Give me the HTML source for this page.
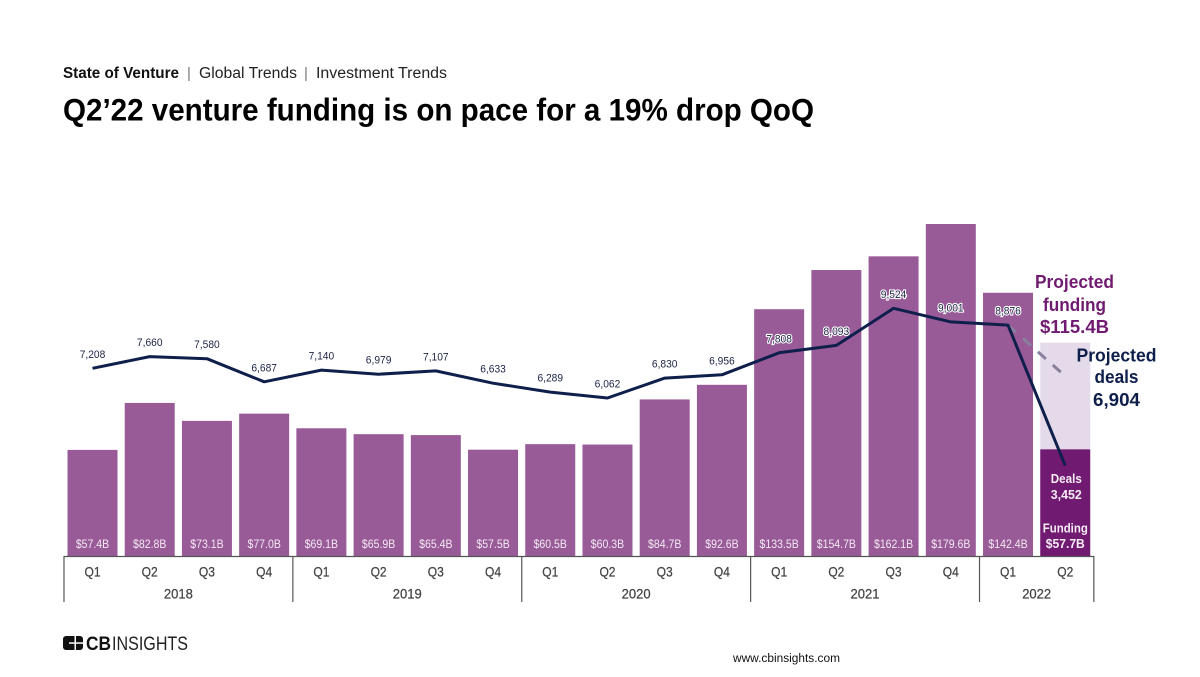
<!DOCTYPE html>
<html lang="en">
<head>
<meta charset="utf-8">
<title>Q2'22 venture funding is on pace for a 19% drop QoQ</title>
<style>
html,body{margin:0;padding:0;background:#fff;width:1200px;height:677px;overflow:hidden}
svg{display:block;font-family:"Liberation Sans",sans-serif}
</style>
</head>
<body>
<svg id="chart" xmlns="http://www.w3.org/2000/svg" width="1200" height="677" viewBox="0 0 1200 677">
  <rect x="0" y="0" width="1200" height="677" fill="#fff"/>
  <g>
    <text x="63" y="78" font-size="15.5" font-weight="700" fill="#111" textLength="116" lengthAdjust="spacingAndGlyphs">State of Venture</text>
    <text x="187" y="78" font-size="15" fill="#777">|</text>
    <text x="199" y="78" font-size="15.5" fill="#222" textLength="98" lengthAdjust="spacingAndGlyphs">Global Trends</text>
    <text x="304" y="78" font-size="15" fill="#777">|</text>
    <text x="316" y="78" font-size="15.5" fill="#222" textLength="131" lengthAdjust="spacingAndGlyphs">Investment Trends</text>
    <text x="63" y="120.5" font-size="31.5" font-weight="700" fill="#000" textLength="751" lengthAdjust="spacingAndGlyphs">Q2’22 venture funding is on pace for a 19% drop QoQ</text>
  </g>
  <g id="bars"></g>
  <g id="axis"></g>
  <g id="lines"></g>
  <g id="annotations"></g>
  <g>
    <rect x="63" y="636" width="20" height="14" rx="3" fill="#111"/>
    <rect x="74.5" y="636" width="1.5" height="14" fill="#fff"/>
    <rect x="69" y="642.3" width="14" height="1.5" fill="#fff"/>
    <text x="86" y="650" font-size="19.5" font-weight="700" fill="#111" textLength="25" lengthAdjust="spacingAndGlyphs">CB</text>
    <text x="112" y="650" font-size="19.5" fill="#222" textLength="76" lengthAdjust="spacingAndGlyphs">INSIGHTS</text>
  </g>
  <text x="733" y="662" font-size="11.5" fill="#111" textLength="107" lengthAdjust="spacingAndGlyphs">www.cbinsights.com</text>
</svg>
<script>
const quarters = ["Q1","Q2","Q3","Q4","Q1","Q2","Q3","Q4","Q1","Q2","Q3","Q4","Q1","Q2","Q3","Q4","Q1","Q2"];
const years = ["2018","2019","2020","2021","2022"];
const quartersPerYear = [4,4,4,4,2];
const funding = [57.4,82.8,73.1,77.0,69.1,65.9,65.4,57.5,60.5,60.3,84.7,92.6,133.5,154.7,162.1,179.6,142.4,57.7];
const deals = [7208,7660,7580,6687,7140,6979,7107,6633,6289,6062,6830,6956,7808,8093,9524,9001,8876,3452];
const projectedFunding = 115.4;
const projectedDeals = 6904;

const NS = "http://www.w3.org/2000/svg";
const xBand = 57.22, xStart = 92.5, barW = 50;
const baseY = 556;
function xPos(i){ return xStart + i * xBand; }
function yFunding(v){ return baseY - v * 1.8486; }
function yDeals(v){ return 368.3 - (v - 7208) * 0.0259; }
function make(parent, tag, attrs, txt){
  const el = document.createElementNS(NS, tag);
  for (const k in attrs) el.setAttribute(k, attrs[k]);
  if (txt !== undefined) el.textContent = txt;
  parent.appendChild(el);
  return el;
}
function squeeze(el, factor){
  el.setAttribute("textLength", (el.getComputedTextLength() * factor).toFixed(2));
  el.setAttribute("lengthAdjust", "spacingAndGlyphs");
}
function fmt(n){ return n.toLocaleString("en-US"); }
const barsG = document.getElementById("bars");
const axisG = document.getElementById("axis");
const linesG = document.getElementById("lines");
const annG = document.getElementById("annotations");
const last = funding.length - 1;

const proj = make(barsG, "rect", {x:xPos(last)-barW/2, y:yFunding(projectedFunding), width:barW, height:yFunding(funding[last])-yFunding(projectedFunding), fill:"#e4dae9"});



funding.forEach(function(v,i){
  const bar = make(barsG, "rect", {x:xPos(i)-barW/2, y:yFunding(v), width:barW, height:baseY-yFunding(v), fill:i===last?"#711a71":"#995a98"});
  
  
  if (i !== last) {
    const lab = make(barsG, "text", {x:xPos(i), y:548, "font-size":11.5, fill:"#f3e9f3", "text-anchor":"middle"}, "$"+v.toFixed(1)+"B");
    squeeze(lab, 0.915);
    
    
  }
});

const axisLine = make(axisG, "line", {x1:63.5, x2:1094, y1:556.5, y2:556.5, stroke:"#555", "stroke-width":1.2});


quarters.forEach(function(q,i){
  const t = make(axisG, "text", {x:xPos(i), y:576.5, "font-size":14, fill:"#444", stroke:"#444", "stroke-width":0.25, "text-anchor":"middle"}, q);
  squeeze(t, 0.86);
  
  
});
let startIdx = 0;
function divider(x){
  const d = make(axisG, "line", {x1:x, x2:x, y1:556, y2:602, stroke:"#555", "stroke-width":1.2});
  
  
}
years.forEach(function(y,k){
  const left = xPos(startIdx) - xBand/2 + 0.1;
  const right = xPos(startIdx + quartersPerYear[k] - 1) + xBand/2;
  divider(left);
  const t = make(axisG, "text", {x:(left+right)/2, y:598.5, "font-size":14, fill:"#444", stroke:"#444", "stroke-width":0.25, "text-anchor":"middle"}, y);
  squeeze(t, 0.93);
  
  
  startIdx += quartersPerYear[k];
  if (k === years.length-1) divider(right);
});

const dash = make(linesG, "line", {x1:xPos(last-1), y1:yDeals(deals[last-1]), x2:xPos(last), y2:yDeals(projectedDeals), stroke:"#8a7f9f", "stroke-width":3, "stroke-dasharray":"10.7 9.3"});


const pts = deals.map(function(v,i){ return xPos(i).toFixed(1)+","+yDeals(v).toFixed(1); }).join(" ");
const line = make(linesG, "polyline", {points:pts, fill:"none", stroke:"#0f1f4b", "stroke-width":3, "stroke-linejoin":"round"});


deals.forEach(function(v,i){
  if (i === last) return;
  const overBar = yDeals(v) - 14 > yFunding(funding[i]);
  const t = make(linesG, "text", {x:xPos(i), y:yDeals(v)-10.5, "font-size":11, fill:"#1b2344", "text-anchor":"middle"}, fmt(v));
  squeeze(t, 0.93);
  if (overBar) { t.setAttribute("stroke","#fff"); t.setAttribute("stroke-width","2.2"); t.setAttribute("paint-order","stroke"); }
  
  
});

function note(name, x, y, size, color, str, width){
  const t = make(annG, "text", {x:x, y:y, "font-size":size, "font-weight":700, fill:color, "text-anchor":"middle", textLength:width, lengthAdjust:"spacingAndGlyphs"}, str);
  
  
}
note("projected-funding-title", 1074.5, 288, 18.5, "#711a71", "Projected", 79);
note("projected-funding-word", 1074.5, 311, 18.5, "#711a71", "funding", 63);
note("projected-funding-value", 1074.5, 333, 18.5, "#711a71", "$"+projectedFunding.toFixed(1)+"B", 69);
note("projected-deals-title", 1116.5, 361.5, 18.5, "#0f1f4b", "Projected", 80);
note("projected-deals-word", 1116.5, 383, 18.5, "#0f1f4b", "deals", 44);
note("projected-deals-value", 1116.5, 406, 18.5, "#0f1f4b", fmt(projectedDeals), 47);
note("current-deals-title", 1066.3, 483, 13, "#f5ecf5", "Deals", 31);
note("current-deals-value", 1066.3, 499, 13, "#f5ecf5", fmt(deals[last]), 31);
note("current-funding-title", 1065.3, 532.5, 13, "#f5ecf5", "Funding", 45);
note("current-funding-value", 1065.3, 548, 13, "#f5ecf5", "$"+funding[last].toFixed(1)+"B", 39);
</script>
</body>
</html>
